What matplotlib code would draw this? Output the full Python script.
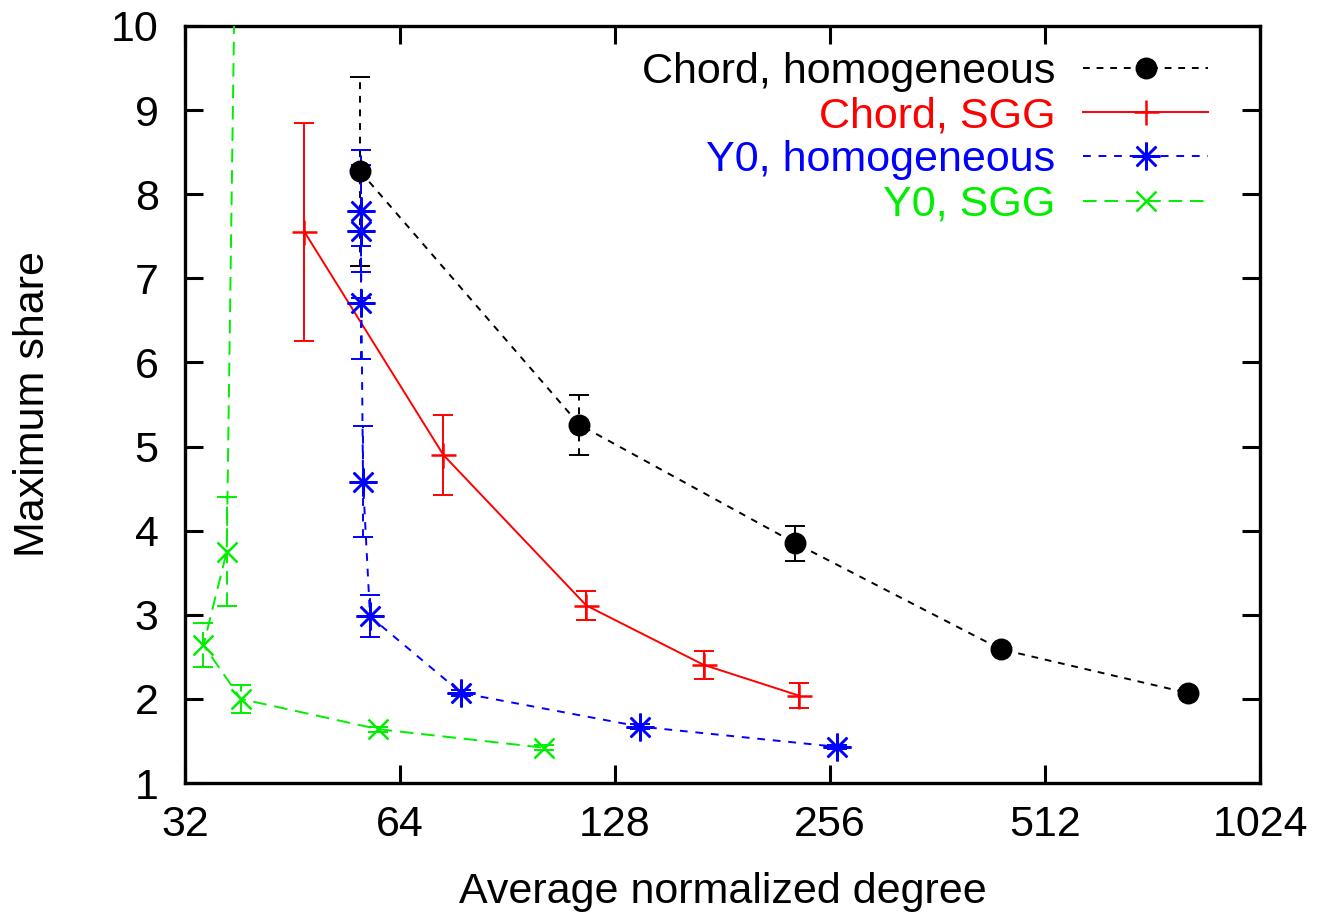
import matplotlib.pyplot as plt
import matplotlib.ticker as ticker

plt.rcParams['font.family'] = ['Liberation Sans', 'DejaVu Sans']

# Chord, homogeneous
chord_hom_x = [56.3, 114.1, 229, 444, 812]
chord_hom_y = [8.27, 5.26, 3.85, 2.59, 2.07]
chord_hom_err = [1.12, 0.355, 0.205, 0.03, 0.03]

# Chord, SGG
chord_sgg_x = [47.0, 73.6, 116.7, 170.3, 231.4]
chord_sgg_y = [7.555, 4.90, 3.11, 2.405, 2.04]
chord_sgg_err = [1.295, 0.48, 0.17, 0.165, 0.15]

# Y0, homogeneous
y0_hom_x = [56.4, 56.4, 56.5, 56.8, 58.1, 78.0, 138.9, 262]
y0_hom_y = [7.80, 7.56, 6.71, 4.58, 2.98, 2.07, 1.67, 1.43]
y0_hom_err = [0.72, 0.79, 0.67, 0.66, 0.25, 0.03, 0.03, 0.02]

# Y0, SGG
y0_sgg_x = [38.0, 36.6, 33.96, 38.3, 59.7, 101.7]
y0_sgg_y = [13.7, 3.75, 2.64, 2.00, 1.64, 1.42]
y0_sgg_err = [0.5, 0.645, 0.265, 0.165, 0.03, 0.03]

xticks = [32, 64, 128, 256, 512, 1024]
yticks = [1, 2, 3, 4, 5, 6, 7, 8, 9, 10]

fig = plt.figure(figsize=(13.19, 9.14), dpi=100)
ax = fig.add_axes([0.1403, 0.1433, 0.8150, 0.8283])

series = [
    ('Chord, homogeneous', chord_hom_x, chord_hom_y, chord_hom_err, 'black', 'o', (0, (3.5, 3.5)), 14),
    ('Chord, SGG', chord_sgg_x, chord_sgg_y, chord_sgg_err, '#ff0000', '+', '-', 18),
    ('Y0, homogeneous', y0_hom_x, y0_hom_y, y0_hom_err, '#0000ff', (8, 2, 0), (0, (4, 4)), 20),
    ('Y0, SGG', y0_sgg_x, y0_sgg_y, y0_sgg_err, '#00ee00', 'x', (0, (7, 4)), 15),
]

handles = []
for name, x, y, e, c, m, ls, ms in series:
    eb = ax.errorbar(x, y, yerr=e, fmt='none', ecolor=c, elinewidth=1.4,
                     capsize=7, capthick=1.4, zorder=2)
    eb[2][0].set_linestyle(ls)
    ln, = ax.plot(x, y, color=c, linestyle=ls, linewidth=1.4, marker=m,
                  markersize=ms, markeredgewidth=1.8, label=name, zorder=3)
    handles.append(ln)

ax.set_xscale('log', base=2)
ax.set_xlim(32, 1024)
ax.set_ylim(1, 10)
ax.xaxis.set_major_locator(ticker.FixedLocator(xticks))
ax.xaxis.set_major_formatter(ticker.FixedFormatter([str(t) for t in xticks]))
ax.xaxis.set_minor_locator(ticker.NullLocator())
ax.set_yticks(yticks)
ax.tick_params(direction='in', length=13, width=2.2, labelsize=31,
               top=True, right=True)
ax.tick_params(axis='x', pad=16)
ax.tick_params(axis='y', pad=19)
for s in ax.spines.values():
    s.set_linewidth(2.4)

ax.set_xlabel('Average normalized degree', fontsize=31, labelpad=19)
ax.set_ylabel('Maximum share', fontsize=31, labelpad=42)

leg = ax.legend(handles=handles, loc='upper right', bbox_to_anchor=(0.9516, 0.966),
                frameon=False, markerfirst=False, fontsize=31, handlelength=2.9,
                handletextpad=0.65, labelspacing=0.1, borderpad=0, borderaxespad=0)
for t, (name, x, y, e, c, m, ls, ms) in zip(leg.get_texts(), series):
    t.set_color(c)

fig.savefig('out.png', dpi=100)
